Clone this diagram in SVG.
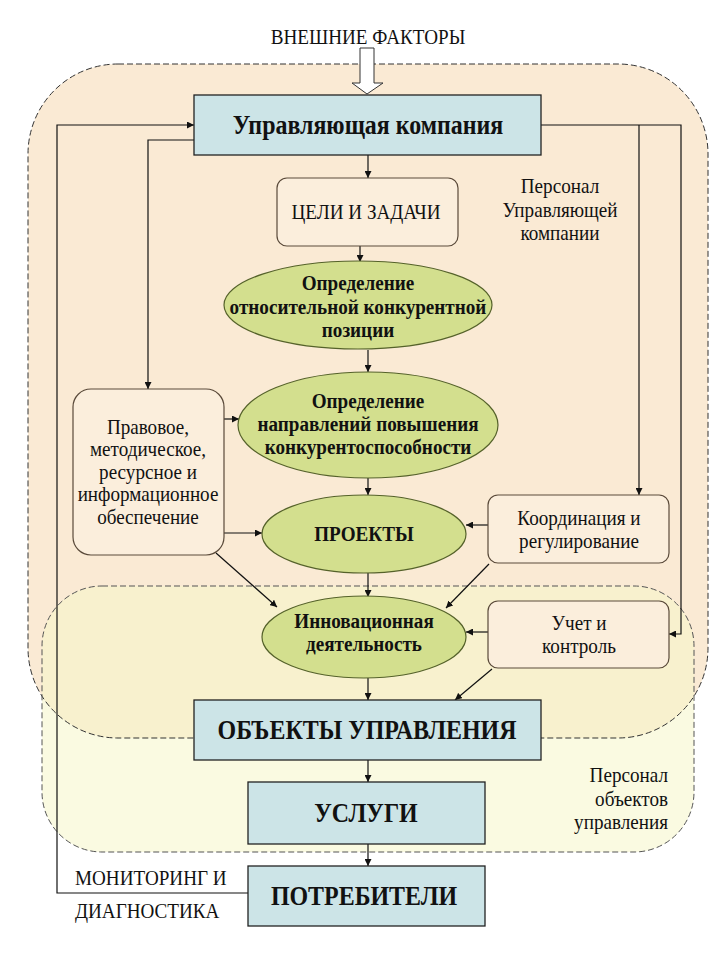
<svg xmlns="http://www.w3.org/2000/svg" width="720" height="960" viewBox="0 0 720 960">
<defs>
<marker id="ah" viewBox="0 0 10 10" refX="10" refY="5" markerWidth="7" markerHeight="7" markerUnits="userSpaceOnUse" orient="auto"><path d="M0,0 L10,5 L0,10 z" fill="#111"/></marker>
</defs>
<style>
text{fill:#111;font-family:"Liberation Serif","Times New Roman",serif;transform:scaleX(0.87);transform-box:fill-box;transform-origin:center}
.t{font-size:22px}
.s{font-size:21px;transform:scaleX(0.91)}
.big{font-size:27.5px;font-weight:bold}
.c{text-anchor:middle}
.L{transform-origin:left center}
.R{text-anchor:end;transform-origin:right center}
.b{font-weight:bold}
.blue{fill:#CCE4E7;stroke:#222;stroke-width:1.3}
.rbox{fill:#FBEEDC;stroke:#5A4A3A;stroke-width:1.2}
.ell{fill:#D3DF8E;stroke:#55622A;stroke-width:1.2}
.ar{fill:none;stroke:#111;stroke-width:1.2;marker-end:url(#ah)}
</style>
<rect width="720" height="960" fill="#fff"/>
<g id="regions">
<rect x="28" y="64" width="680" height="674" rx="90" ry="90" fill="#FAEAD4"/>
<rect x="42" y="586" width="652" height="266" rx="60" ry="60" fill="#F6F5C9" fill-opacity="0.55"/>
<rect x="28" y="64" width="680" height="674" rx="90" ry="90" fill="none" stroke="#333" stroke-width="1" stroke-dasharray="6,3"/>
<rect x="42" y="586" width="652" height="266" rx="60" ry="60" fill="none" stroke="#555" stroke-width="1" stroke-dasharray="6,3"/>
</g>
<g id="ext">
<text class="t c" x="368" y="44">ВНЕШНИЕ ФАКТОРЫ</text>
<path d="M360,48 L374,48 L374,83 L383,83 L367,94 L352,83 L360,83 Z" fill="#fff" stroke="#333" stroke-width="1"/>
</g>
<g id="connectors">
<path class="ar" d="M368,155 L368,178"/>
<path class="ar" d="M360,246 L360,262"/>
<path class="ar" d="M368,350 L368,372"/>
<path class="ar" d="M368,478 L368,495"/>
<path class="ar" d="M368,573 L368,597"/>
<path class="ar" d="M368,678 L368,700"/>
<path class="ar" d="M368,760 L368,782"/>
<path class="ar" d="M368,844 L368,866"/>
<path class="ar" d="M248,893 L57,893 L57,125 L194,125"/>
<path class="ar" d="M194,140 L148,140 L148,389"/>
<path class="ar" d="M224,419 L239,419"/>
<path class="ar" d="M224,533 L262,533"/>
<path class="ar" d="M216,553 L277,607"/>
<path class="ar" d="M541,125 L681,125 L681,634 L669,634"/>
<path class="ar" d="M639,125 L639,495"/>
<path class="ar" d="M488,525 L466,525"/>
<path class="ar" d="M489,564 L446,608"/>
<path class="ar" d="M488,632 L466,632"/>
<path class="ar" d="M492,669 L455,700"/>
</g>
<g id="mgmt">
<rect class="blue" x="194" y="95" width="347" height="60"/>
<text class="big c" x="368" y="134">Управляющая компания</text>
</g>
<g id="goals">
<rect class="rbox" x="277" y="178" width="181" height="68" rx="10"/>
<text class="t c" x="366" y="219">ЦЕЛИ И ЗАДАЧИ</text>
</g>
<g id="staff1">
<text class="t c" x="560" y="193">Персонал</text>
<text class="t c" x="560" y="217">Управляющей</text>
<text class="t c" x="560" y="240">компании</text>
</g>
<g id="e1">
<ellipse class="ell" cx="358" cy="305" rx="134" ry="44"/>
<text class="t c b" x="358" y="290">Определение</text>
<text class="t c b" x="358" y="314">относительной конкурентной</text>
<text class="t c b" x="358" y="337">позиции</text>
</g>
<g id="e2">
<ellipse class="ell" cx="368" cy="425" rx="130" ry="53"/>
<text class="t c b" x="368" y="408">Определение</text>
<text class="t c b" x="368" y="431">направлений повышения</text>
<text class="t c b" x="368" y="454">конкурентоспособности</text>
</g>
<g id="e3">
<ellipse class="ell" cx="364" cy="534" rx="102" ry="39"/>
<text class="t c b" x="364" y="541">ПРОЕКТЫ</text>
</g>
<g id="e4">
<ellipse class="ell" cx="364" cy="637" rx="102" ry="41"/>
<text class="t c b" x="364" y="628">Инновационная</text>
<text class="t c b" x="364" y="651">деятельность</text>
</g>
<g id="support">
<rect class="rbox" x="73" y="389" width="151" height="166" rx="18"/>
<text class="s c" x="148" y="434">Правовое,</text>
<text class="s c" x="148" y="456.5">методическое,</text>
<text class="s c" x="148" y="479">ресурсное и</text>
<text class="s c" x="148" y="501.5">информационное</text>
<text class="s c" x="148" y="524">обеспечение</text>
</g>
<g id="coord">
<rect class="rbox" x="488" y="495" width="181" height="68" rx="10"/>
<text class="t c" x="579" y="525">Координация и</text>
<text class="t c" x="579" y="548">регулирование</text>
</g>
<g id="control">
<rect class="rbox" x="488" y="601" width="181" height="67" rx="10" fill="#FAF3D6"/>
<text class="t c" x="579" y="630">Учет и</text>
<text class="t c" x="579" y="653">контроль</text>
</g>
<g id="objects">
<rect class="blue" x="194" y="700" width="347" height="60"/>
<text class="big c" x="367" y="739">ОБЪЕКТЫ УПРАВЛЕНИЯ</text>
</g>
<g id="services">
<rect class="blue" x="248" y="782" width="237" height="62"/>
<text class="big c" x="366" y="822">УСЛУГИ</text>
</g>
<g id="consumers">
<rect class="blue" x="248" y="866" width="237" height="60"/>
<text class="big c" x="364" y="905">ПОТРЕБИТЕЛИ</text>
</g>
<g id="staff2">
<text class="t R" x="668" y="782">Персонал</text>
<text class="t R" x="668" y="806">объектов</text>
<text class="t R" x="668" y="829">управления</text>
</g>
<g id="monitor">
<text class="t L" x="75" y="885">МОНИТОРИНГ И</text>
<text class="t L" x="75" y="918">ДИАГНОСТИКА</text>
</g>
</svg>
